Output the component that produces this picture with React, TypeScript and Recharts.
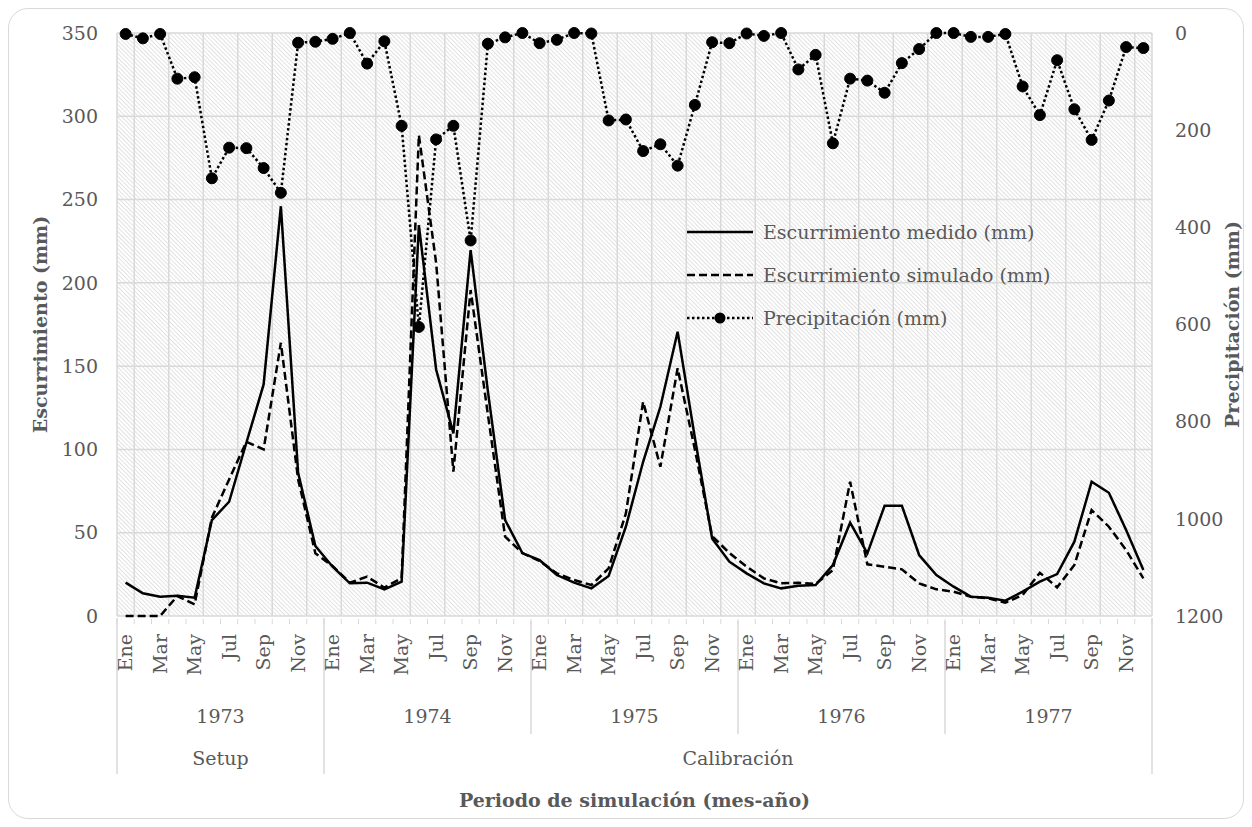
import React from 'react';
import { ComposedChart, Line, XAxis, YAxis, CartesianGrid, Legend } from 'recharts';

const FONT = "'DejaVu Serif', 'Liberation Serif', serif";
const GREY = '#595959';
const GRID = '#d9d9d9';

const monthNames = ['Ene', 'Feb', 'Mar', 'Abr', 'May', 'Jun', 'Jul', 'Ago', 'Sep', 'Oct', 'Nov', 'Dic'];
const years = ['1973', '1974', '1975', '1976', '1977'];
const phases = ['Setup', 'Calibración'];

// escurrimiento medido (mm), ene 1973 - dic 1977
const medido = [
  20, 13.6, 11.6, 12.2, 11, 57.6, 68.6, 104, 139, 246, 86, 42,
  29.6, 19.6, 20, 16, 20.6, 234.7, 148, 109.6, 219.7, 135, 57.6, 37.8,
  33.5, 24.6, 20, 16.6, 24, 53.6, 92.6, 125.6, 170.7, 107, 46.6, 32.6,
  25.6, 19.6, 16.6, 18.2, 18.6, 30.6, 56, 37.6, 66.2, 66.2, 36.6, 24.6,
  17.6, 11.6, 11, 9.2, 14.6, 20.6, 25.2, 44.6, 80.6, 74, 51.6, 27.6,
];

// escurrimiento simulado (mm)
const simulado = [
  0, 0, 0, 12, 7, 59, 82, 104.6, 100, 164, 82, 37.6,
  30, 20, 23.6, 17, 22.8, 288.7, 212, 86.6, 195.7, 121, 47.6, 37.8,
  33, 25.6, 21.6, 18.6, 28.6, 61.6, 128.6, 89.6, 148.7, 100, 48, 37.8,
  29.6, 22.6, 19.6, 20, 19.2, 27.6, 80.6, 31, 29.6, 28, 19.6, 16,
  14.6, 11.6, 10.6, 8, 12.6, 26, 17.2, 30.6, 63.6, 53.6, 39.6, 22.6,
];

// precipitacion (mm), eje derecho invertido
const precipitacion = [
  2, 11, 2, 94, 91, 299, 236, 237, 278, 329, 20, 18,
  12, 0, 63, 17, 191, 605, 219, 191, 427, 22, 9, 0,
  21, 14, 0, 1, 180, 178, 243, 229, 273, 148, 19, 21,
  1, 6, 0, 75, 45, 227, 94, 98, 123, 62, 33, 0,
  0, 8, 8, 2, 110, 169, 56, 157, 220, 139, 29, 31,
];

const leftTicks = [0, 50, 100, 150, 200, 250, 300, 350];
const rightTicks = [0, 200, 400, 600, 800, 1000, 1200];

const data = medido.map((m, i) => ({
  idx: i,
  medido: m,
  simulado: simulado[i],
  precip: precipitacion[i],
}));

const last = data.length - 0.5;
const xDomain = [-0.5, last];
const monthTicks = data.filter((d) => d.idx % 2 === 0).map((d) => d.idx);
const gridTicks = [-0.5, ...data.filter((d) => d.idx % 2 === 1).map((d) => d.idx - 0.5), last];
const boundaryTicks = [...data.map((d) => d.idx - 0.5), last];
const yearCenters = years.map((_, i) => i * 12 + 5.5);
const yearSeps = years.slice(2).map((_, i) => (i + 2) * 12 - 0.5);
const phaseSeps = [-0.5, 11.5, last];
const phaseCenters = [5.5, (11.5 + last) / 2];

const legendItems = [
  { label: 'Escurrimiento medido (mm)', dash: undefined, dot: false },
  { label: 'Escurrimiento simulado (mm)', dash: '8 4', dot: false },
  { label: 'Precipitación (mm)', dash: '2.5 2.5', dot: true },
];

const textStyle = { fill: GREY, fontSize: 19, fontFamily: FONT };

const MonthTick = ({ x, y, payload }: any) => (
  <text
    x={x}
    y={y}
    dy="0.35em"
    textAnchor="end"
    transform={`rotate(-90 ${x} ${y})`}
    {...textStyle}
  >
    {monthNames[payload.value % 12]}
  </text>
);

const YearTick = ({ x, y, payload }: any) => (
  <text x={x} y={y} dy="0.35em" textAnchor="middle" {...textStyle}>
    {years[Math.round((payload.value - 5.5) / 12)]}
  </text>
);

const PhaseTick = ({ x, y, payload }: any) => (
  <text x={x} y={y} dy="0.35em" textAnchor="middle" {...textStyle}>
    {payload.value < 12 ? phases[0] : phases[1]}
  </text>
);

const NoTick = () => <g />;

const LegendBox = () => (
  <div style={{ fontFamily: FONT, fontSize: 19, color: GREY }}>
    {legendItems.map((it) => (
      <div key={it.label} style={{ display: 'flex', alignItems: 'center', height: 43 }}>
        <svg width={66} height={14}>
          <line x1={0} y1={7} x2={66} y2={7} stroke="#000" strokeWidth={2.5} strokeDasharray={it.dash} />
          {it.dot && <circle cx={33} cy={7} r={5.5} fill="#000" />}
        </svg>
        <span style={{ marginLeft: 10, whiteSpace: 'nowrap' }}>{it.label}</span>
      </div>
    ))}
  </div>
);

const App = () => {
  return (
    <div
      style={{
        width: 1234,
        height: 809,
        border: '1px solid #d9d9d9',
        borderRadius: 20,
        background: '#fff',
      }}
    >
      <ComposedChart
        width={1234}
        height={809}
        data={data}
        margin={{ top: 24, right: 0, bottom: 196, left: 0 }}
        style={{ fontFamily: FONT }}
      >
        <defs>
          <pattern id="hatch" width="3" height="3" patternUnits="userSpaceOnUse" patternTransform="rotate(-45)">
            <rect width="3" height="3" fill="#ffffff" />
            <line x1="0" y1="0" x2="0" y2="3" stroke="#cfcfcf" strokeWidth="1.2" />
          </pattern>
        </defs>

        <CartesianGrid
          xAxisId="grid"
          yAxisId="q"
          fill="url(#hatch)"
          fillOpacity={1}
          stroke={GRID}
          strokeWidth={1.5}
        />

        <XAxis
          xAxisId="grid"
          type="number"
          dataKey="idx"
          domain={xDomain}
          ticks={gridTicks}
          interval={0}
          height={0}
          hide
        />

        <XAxis
          xAxisId="m"
          type="number"
          dataKey="idx"
          domain={xDomain}
          ticks={monthTicks}
          interval={0}
          height={1}
          tickSize={0}
          tickMargin={18}
          tickLine={false}
          axisLine={false}
          tick={<MonthTick />}
          label={{
            content: ({ viewBox }: any) => {
              const vb = viewBox || { x: 108, y: 607, width: 1035 };
              return (
                <text
                  x={vb.x + vb.width / 2}
                  y={vb.y + 184}
                  dy="0.35em"
                  textAnchor="middle"
                  fontWeight="bold"
                  {...textStyle}
                >
                  Periodo de simulación (mes-año)
                </text>
              );
            },
          }}
        />

        <XAxis
          xAxisId="ys"
          type="number"
          dataKey="idx"
          domain={xDomain}
          ticks={yearSeps}
          interval={0}
          height={1}
          tickSize={113}
          axisLine={false}
          tickLine={{ stroke: GRID, strokeWidth: 1.5 }}
          tick={<NoTick />}
        />

        <XAxis
          xAxisId="ps"
          type="number"
          dataKey="idx"
          domain={xDomain}
          ticks={phaseSeps}
          interval={0}
          height={1}
          tickSize={156}
          axisLine={false}
          tickLine={{ stroke: GRID, strokeWidth: 1.5 }}
          tick={<NoTick />}
        />

        <XAxis
          xAxisId="yr"
          type="number"
          dataKey="idx"
          domain={xDomain}
          ticks={yearCenters}
          interval={0}
          height={1}
          tickSize={0}
          tickMargin={96}
          axisLine={false}
          tickLine={false}
          tick={<YearTick />}
        />

        <XAxis
          xAxisId="ph"
          type="number"
          dataKey="idx"
          domain={xDomain}
          ticks={phaseCenters}
          interval={0}
          height={1}
          tickSize={0}
          tickMargin={141}
          axisLine={false}
          tickLine={false}
          tick={<PhaseTick />}
        />

        <XAxis
          xAxisId="tk"
          type="number"
          dataKey="idx"
          domain={xDomain}
          ticks={boundaryTicks}
          interval={0}
          height={1}
          tickSize={5}
          axisLine={false}
          tickLine={{ stroke: GRID, strokeWidth: 1 }}
          tick={<NoTick />}
        />

        <YAxis
          yAxisId="q"
          width={108}
          domain={[0, 350]}
          ticks={leftTicks}
          interval={0}
          axisLine={false}
          tickLine={false}
          tickSize={0}
          tickMargin={19}
          tick={textStyle}
          label={{
            content: ({ viewBox }: any) => {
              const vb = viewBox || { x: 0, y: 24, height: 583 };
              const cx = vb.x + 31;
              const cy = vb.y + vb.height / 2;
              return (
                <text
                  x={cx}
                  y={cy}
                  dy="0.35em"
                  textAnchor="middle"
                  fontWeight="bold"
                  transform={`rotate(-90 ${cx} ${cy})`}
                  {...textStyle}
                >
                  Escurrimiento (mm)
                </text>
              );
            },
          }}
        />

        <YAxis
          yAxisId="p"
          orientation="right"
          reversed
          width={91}
          domain={[0, 1200]}
          ticks={rightTicks}
          interval={0}
          axisLine={false}
          tickLine={false}
          tickSize={0}
          tickMargin={23}
          tick={textStyle}
          label={{
            content: ({ viewBox }: any) => {
              const vb = viewBox || { x: 1143, y: 24, height: 583 };
              const cx = vb.x + 80;
              const cy = vb.y + vb.height / 2;
              return (
                <text
                  x={cx}
                  y={cy}
                  dy="0.35em"
                  textAnchor="middle"
                  fontWeight="bold"
                  transform={`rotate(-90 ${cx} ${cy})`}
                  {...textStyle}
                >
                  Precipitación (mm)
                </text>
              );
            },
          }}
        />

        <Legend
          layout="horizontal"
          align="center"
          verticalAlign="middle"
          content={<LegendBox />}
          wrapperStyle={{ left: 678, top: 201, width: 'auto' }}
        />

        <Line
          xAxisId="m"
          yAxisId="q"
          type="linear"
          dataKey="medido"
          stroke="#000"
          strokeWidth={2.5}
          dot={false}
          isAnimationActive={false}
        />
        <Line
          xAxisId="m"
          yAxisId="q"
          type="linear"
          dataKey="simulado"
          stroke="#000"
          strokeWidth={2.5}
          strokeDasharray="8 4"
          dot={false}
          isAnimationActive={false}
        />
        <Line
          xAxisId="m"
          yAxisId="p"
          type="linear"
          dataKey="precip"
          stroke="#000"
          strokeWidth={2.5}
          strokeDasharray="2.5 2.5"
          dot={{ r: 5.5, fill: '#000', stroke: '#000', strokeWidth: 1, strokeDasharray: '' }}
          isAnimationActive={false}
        />
      </ComposedChart>
    </div>
  );
};

export default App;
